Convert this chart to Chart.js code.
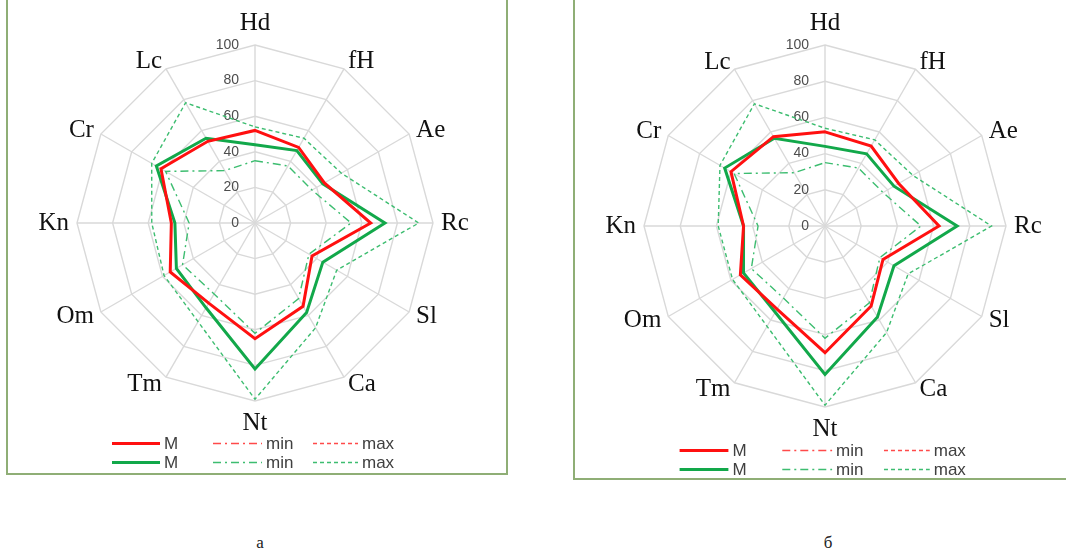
<!DOCTYPE html>
<html>
<head>
<meta charset="utf-8">
<script src="https://cdn.jsdelivr.net/npm/chart.js@4.4.1/dist/chart.umd.min.js"></script>
<style>
  html, body { margin: 0; padding: 0; background: #fff; }
  body { position: relative; width: 1066px; height: 553px; overflow: hidden; }
  .frame { position: absolute; border: 2px solid #8fae76; box-sizing: border-box; }
  canvas { position: absolute; }
  .cap { position: absolute; width: 30px; text-align: center; font-family: "Liberation Serif", serif; font-size: 17px; color: #222; }
</style>
</head>
<body>
<div class="frame" style="left:6px; top:-4px; width:502px; height:479px;"></div>
<div class="frame" style="left:573px; top:-4px; width:520px; height:484px;"></div>
<canvas id="chartA" width="510" height="480" style="left:0; top:0;"></canvas>
<canvas id="chartB" width="496" height="480" style="left:570px; top:0;"></canvas>
<div class="cap" style="left:245px; top:533px;">а</div>
<div class="cap" style="left:813px; top:533px;">б</div>
<script>
"use strict";
const axisLabels = ['Hd', 'fH', 'Ae', 'Rc', 'Sl', 'Ca', 'Nt', 'Tm', 'Om', 'Kn', 'Cr', 'Lc'];
const tickValues = [0, 20, 40, 60, 80, 100];
const legendNames = ['M', 'min', 'max'];

// chart а
const redMeanA   = [52, 49, 45, 65, 37, 54, 65, 52, 55, 47, 61, 53];
const greenMeanA = [44, 47, 44, 73, 44, 58, 82, 55, 51, 45, 64, 55];
const greenMinA  = [35, 37, 37, 54, 35, 49, 62, 46, 47, 37, 58, 34];
const greenMaxA  = [54, 55, 56, 92, 53, 68, 99, 64, 59, 58, 67, 78];

// chart б
const redMeanB   = [52, 51, 47, 63, 37, 51, 70, 53, 54, 45, 60, 57];
const greenMeanB = [44, 46, 44, 73, 44, 58, 82, 55, 52, 45, 64, 56];
const greenMinB  = [35, 37, 37, 53, 35, 49, 62, 46, 47, 37, 58, 34];
const greenMaxB  = [54, 55, 56, 92, 53, 68, 99, 64, 59, 59, 67, 78];

const RED = '#ff1010';
const RED_LIGHT = '#ff4a4a';
const GREEN = '#12a84a';
const GREEN_LIGHT = '#3dbd70';
const DASH = [4, 3];
const DASH_DOT = [8, 4, 2, 4];

const legendRows = [
    [{ color: RED, width: 3, dash: [] }, { color: RED_LIGHT, width: 1.4, dash: DASH_DOT }, { color: RED_LIGHT, width: 1.4, dash: DASH }],
    [{ color: GREEN, width: 3, dash: [] }, { color: GREEN_LIGHT, width: 1.4, dash: DASH_DOT }, { color: GREEN_LIGHT, width: 1.4, dash: DASH }]
];
const legendCols = [[-143, -95], [-42, 7], [58, 103]];

const decorPlugin = {
    id: 'decor',
    beforeDatasetsDraw(chart) {
        const scale = chart.scales.r;
        const ctx = chart.ctx;
        ctx.save();
        ctx.font = '14px "Liberation Sans", Arial, sans-serif';
        ctx.fillStyle = '#4d4d4d';
        ctx.textAlign = 'right';
        ctx.textBaseline = 'middle';
        tickValues.forEach(v => {
            const y = scale.yCenter - scale.getDistanceFromCenterForValue(v);
            ctx.fillText(String(v), scale.xCenter - 16, y);
        });
        ctx.restore();
    },
    afterDraw(chart) {
        const scale = chart.scales.r;
        const ctx = chart.ctx;
        const R = scale.drawingArea;
        ctx.save();
        ctx.font = '25px "Liberation Serif", "Times New Roman", serif';
        ctx.fillStyle = '#111';
        ctx.textBaseline = 'middle';
        axisLabels.forEach((lab, i) => {
            const a = i * 2 * Math.PI / axisLabels.length;
            const s = Math.sin(a);
            if (Math.abs(s) < 0.01) {
                const p = scale.getPointPosition(i, R + 22);
                ctx.textAlign = 'center';
                ctx.fillText(lab, p.x, p.y);
            } else {
                const p = scale.getPointPosition(i, R + 8);
                ctx.textAlign = s > 0 ? 'left' : 'right';
                ctx.fillText(lab, p.x, p.y);
            }
        });

        // legend
        const k = R / 178;
        const cx = scale.xCenter, cy = scale.yCenter;
        ctx.font = '17px "Liberation Sans", Arial, sans-serif';
        ctx.textAlign = 'left';
        legendRows.forEach((row, r) => {
            const y = Math.round(cy + (220 + r * 19) * k) + 0.5;
            row.forEach((item, c) => {
                const x0 = cx + legendCols[c][0] * k;
                const x1 = cx + legendCols[c][1] * k;
                ctx.strokeStyle = item.color;
                ctx.lineWidth = item.width;
                ctx.setLineDash(item.dash);
                ctx.beginPath();
                ctx.moveTo(x0, y);
                ctx.lineTo(x1, y);
                ctx.stroke();
                ctx.fillStyle = '#404040';
                ctx.fillText(legendNames[c], x1 + 4, y + 1);
            });
        });
        ctx.restore();
    }
};

function makeChart(id, pad, redMean, greenMean, greenMin, greenMax) {
    const canvas = document.getElementById(id);
    const ctx = canvas.getContext('2d');
    const line = (data, color, width, dash) => ({
        data: data,
        borderColor: color,
        borderWidth: width,
        borderDash: dash,
        fill: false,
        pointRadius: 0,
        pointHoverRadius: 0,
        tension: 0
    });
    return new Chart(ctx, {
        type: 'radar',
        data: {
            labels: axisLabels,
            datasets: [
                line(redMean, RED, 3, []),
                line(greenMean, GREEN, 3, []),
                line(greenMin, GREEN_LIGHT, 1.4, DASH_DOT),
                line(greenMax, GREEN_LIGHT, 1.4, DASH)
            ]
        },
        options: {
            responsive: false,
            animation: false,
            devicePixelRatio: 1,
            layout: { padding: pad },
            plugins: { legend: { display: false }, tooltip: { enabled: false } },
            scales: {
                r: {
                    min: 0,
                    max: 100,
                    ticks: { display: false, stepSize: 20 },
                    pointLabels: { display: false },
                    grid: { circular: false, color: '#d9d9d9', lineWidth: 1.4 },
                    angleLines: { color: '#d9d9d9', lineWidth: 1.4 }
                }
            }
        },
        plugins: [decorPlugin]
    });
}

makeChart('chartA', { left: 77, right: 77, top: 45, bottom: 79 }, redMeanA, greenMeanA, greenMinA, greenMaxA);
makeChart('chartB', { left: 74, right: 60, top: 45, bottom: 73 }, redMeanB, greenMeanB, greenMinB, greenMaxB);
</script>
</body>
</html>
